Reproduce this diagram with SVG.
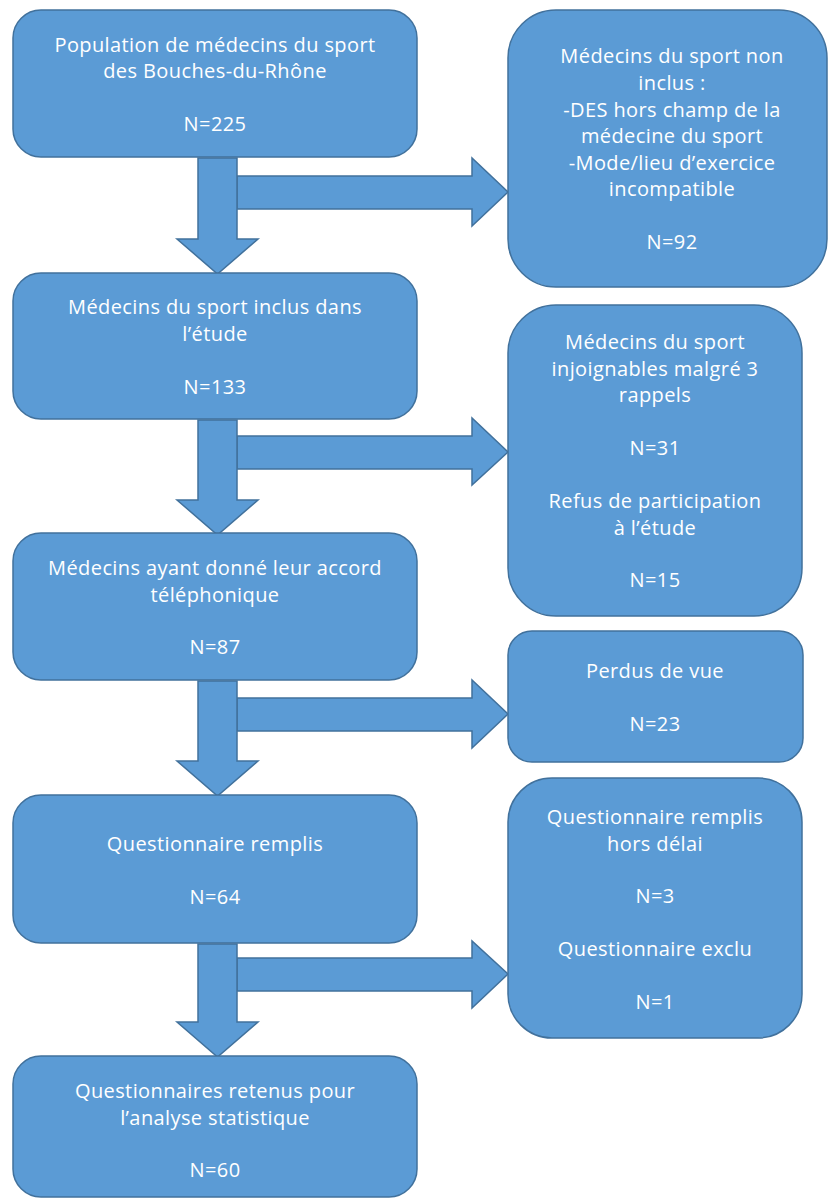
<svg xmlns="http://www.w3.org/2000/svg" width="828" height="1198" viewBox="0 0 828 1198">
<style>
.box{fill:#5B9BD5;stroke:#41719C;stroke-width:1.5}
.arr{fill:#5B9BD5;stroke:#41719C;stroke-width:1.5;stroke-linejoin:miter}
text{font-family:"Open Sans","Noto Sans",sans-serif;font-size:20px;letter-spacing:0.4px;fill:#ffffff;text-anchor:middle}
</style>
<rect width="828" height="1198" fill="#ffffff"/>
<g id="connectors">
<path class="arr" d="M237,176 H472 V158 L508,192 L472,226 V209 H237 Z"/>
<path class="arr" d="M198,158 H237 V239 H258 L217.5,274 L177,239 H198 Z"/>
<path class="arr" d="M237,436 H472 V418 L508,452 L472,485 V469 H237 Z"/>
<path class="arr" d="M198,420 H237 V500 H258 L217.5,535 L177,500 H198 Z"/>
<path class="arr" d="M237,698 H472 V680 L508,714 L472,748 V731 H237 Z"/>
<path class="arr" d="M198,681 H237 V761 H258 L217.5,796 L177,761 H198 Z"/>
<path class="arr" d="M237,958 H472 V941 L508,974 L472,1008 V991 H237 Z"/>
<path class="arr" d="M198,944 H237 V1022 H258 L217.5,1057 L177,1022 H198 Z"/>
</g>
<g id="n1">
<rect class="box" x="13" y="10" width="404" height="147" rx="28"/>
<text x="215" y="52">Population de médecins du sport</text>
<text x="215" y="78">des Bouches-du-Rhône</text>
<text x="215" y="131">N=225</text>
</g>
<g id="n2">
<rect class="box" x="13" y="273" width="404" height="146" rx="28"/>
<text x="215" y="314">Médecins du sport inclus dans</text>
<text x="215" y="341">l’étude</text>
<text x="215" y="394">N=133</text>
</g>
<g id="n3">
<rect class="box" x="13" y="533" width="404" height="147" rx="28"/>
<text x="215" y="575">Médecins ayant donné leur accord</text>
<text x="215" y="602">téléphonique</text>
<text x="215" y="654">N=87</text>
</g>
<g id="n4">
<rect class="box" x="13" y="795" width="404" height="148" rx="28"/>
<text x="215" y="851">Questionnaire remplis</text>
<text x="215" y="904">N=64</text>
</g>
<g id="n5">
<rect class="box" x="13" y="1056" width="404" height="141" rx="28"/>
<text x="215" y="1098">Questionnaires retenus pour</text>
<text x="215" y="1125">l’analyse statistique</text>
<text x="215" y="1177">N=60</text>
</g>
<g id="r1">
<rect class="box" x="508" y="10" width="319" height="277" rx="48"/>
<text x="672" y="63">Médecins du sport non</text>
<text x="672" y="90">inclus :</text>
<text x="672" y="117">-DES hors champ de la</text>
<text x="672" y="143">médecine du sport</text>
<text x="672" y="170">-Mode/lieu d’exercice</text>
<text x="672" y="196">incompatible</text>
<text x="672" y="249">N=92</text>
</g>
<g id="r2">
<rect class="box" x="508" y="305" width="294" height="311" rx="48"/>
<text x="655" y="349">Médecins du sport</text>
<text x="655" y="376">injoignables malgré 3</text>
<text x="655" y="402">rappels</text>
<text x="655" y="455">N=31</text>
<text x="655" y="508">Refus de participation</text>
<text x="655" y="535">à l’étude</text>
<text x="655" y="587">N=15</text>
</g>
<g id="r3">
<rect class="box" x="508" y="631" width="295" height="131" rx="24"/>
<text x="655" y="678">Perdus de vue</text>
<text x="655" y="731">N=23</text>
</g>
<g id="r4">
<rect class="box" x="508" y="778" width="294" height="260" rx="44"/>
<text x="655" y="824">Questionnaire remplis</text>
<text x="655" y="851">hors délai</text>
<text x="655" y="903">N=3</text>
<text x="655" y="956">Questionnaire exclu</text>
<text x="655" y="1009">N=1</text>
</g>
</svg>
